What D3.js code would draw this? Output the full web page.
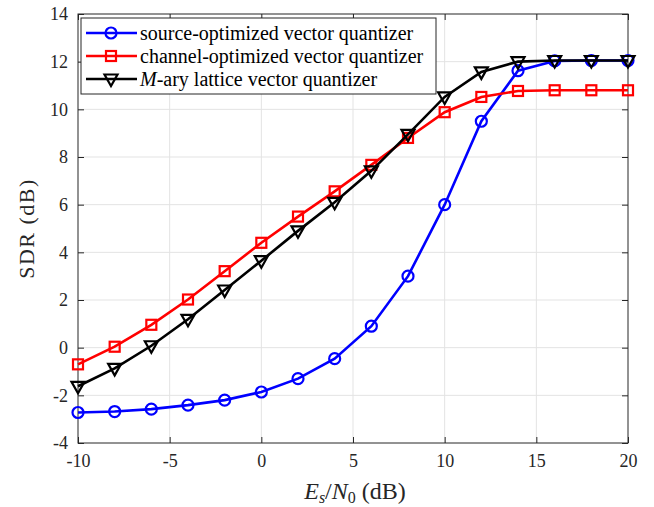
<!DOCTYPE html>
<html>
<head>
<meta charset="utf-8">
<script src="https://cdn.jsdelivr.net/npm/d3@7"></script>
<style>
  body { margin: 0; background: #fff; }
  svg text { font-family: 'Liberation Serif', 'Times New Roman', Times, 'DejaVu Serif', serif !important; }
</style>
</head>
<body>
<div id="chart"></div>
<script>
// Data
const snr = [-10, -8, -6, -4, -2, 0, 2, 4, 6, 8, 10, 12, 14, 16, 18, 20];
const sourceOpt = [-2.72, -2.68, -2.58, -2.41, -2.2, -1.86, -1.3, -0.46, 0.9, 3.0, 6.0, 9.5, 11.62, 12.03, 12.05, 12.05];
const channelOpt = [-0.7, 0.04, 0.96, 2.02, 3.21, 4.4, 5.5, 6.56, 7.67, 8.8, 9.88, 10.52, 10.77, 10.8, 10.8, 10.8];
const latticeVQ = [-1.62, -0.87, 0.08, 1.19, 2.42, 3.65, 4.9, 6.1, 7.42, 8.95, 10.52, 11.57, 12.0, 12.05, 12.05, 12.05];
const xTicks = [-10, -5, 0, 5, 10, 15, 20];
const yTicks = [-4, -2, 0, 2, 4, 6, 8, 10, 12, 14];

const W = 654, H = 507;
const margin = { top: 14, right: 26, bottom: 64, left: 78 };
const width = W - margin.left - margin.right;
const height = H - margin.top - margin.bottom;
const serif = "'Liberation Serif', 'Times New Roman', serif";

const svg = d3.select("#chart").append("svg")
  .attr("width", W).attr("height", H)
  .attr("font-family", serif);
const g = svg.append("g")
  .attr("transform", `translate(${margin.left},${margin.top})`);

const x = d3.scaleLinear().domain([-10, 20]).range([0, width]);
const y = d3.scaleLinear().domain([-4, 14]).range([height, 0]);

// grid
g.append("g").selectAll("line").data(xTicks.slice(1, -1)).join("line")
  .attr("x1", d => x(d)).attr("x2", d => x(d))
  .attr("y1", 0).attr("y2", height)
  .attr("stroke", "#e3e3e3").attr("stroke-width", 1);
g.append("g").selectAll("line").data(yTicks.slice(1, -1)).join("line")
  .attr("y1", d => y(d)).attr("y2", d => y(d))
  .attr("x1", 0).attr("x2", width)
  .attr("stroke", "#e3e3e3").attr("stroke-width", 1);

// axes (ticks inward, on all four sides)
const axisColor = "#262626";
function styleAxis(sel, showText) {
  sel.attr("font-family", serif).attr("font-size", 18);
  sel.select(".domain").remove();
  sel.selectAll(".tick line").attr("stroke", axisColor);
  sel.selectAll(".tick text")
    .attr("fill", "#262626")
    .style("display", showText ? null : "none");
}
g.append("g").attr("transform", `translate(0,${height})`)
  .call(d3.axisBottom(x).tickValues(xTicks).tickSizeInner(-6).tickPadding(11).tickFormat(d => d))
  .call(s => styleAxis(s, true));
g.append("g")
  .call(d3.axisTop(x).tickValues(xTicks).tickSizeInner(-6).tickFormat(""))
  .call(s => styleAxis(s, false));
g.append("g")
  .call(d3.axisLeft(y).tickValues(yTicks).tickSizeInner(-6).tickPadding(10).tickFormat(d => d))
  .call(s => styleAxis(s, true));
g.append("g").attr("transform", `translate(${width},0)`)
  .call(d3.axisRight(y).tickValues(yTicks).tickSizeInner(-6).tickFormat(""))
  .call(s => styleAxis(s, false));
g.append("rect")
  .attr("width", width).attr("height", height)
  .attr("fill", "none").attr("stroke", axisColor).attr("stroke-width", 1);

// series
const series = [
  { name: "source", values: sourceOpt, color: "#0000ff", marker: "circle" },
  { name: "channel", values: channelOpt, color: "#ff0000", marker: "square" },
  { name: "lattice", values: latticeVQ, color: "#000000", marker: "triangle" }
];
const line = d3.line().x(d => x(d[0])).y(d => y(d[1]));

function drawMarker(sel, type, color) {
  if (type === "circle") {
    sel.append("circle").attr("r", 5.5)
      .attr("fill", "none").attr("stroke", color).attr("stroke-width", 2.2);
  } else if (type === "square") {
    sel.append("rect").attr("x", -5).attr("y", -5).attr("width", 10).attr("height", 10)
      .attr("fill", "none").attr("stroke", color).attr("stroke-width", 2.2);
  } else {
    sel.append("path").attr("d", "M-6.5,-4.5 L6.5,-4.5 L0,7 Z")
      .attr("fill", "none").attr("stroke", color).attr("stroke-width", 2.2);
  }
}

series.forEach(s => {
  const pts = snr.map((v, i) => [v, s.values[i]]);
  g.append("path").datum(pts)
    .attr("fill", "none").attr("stroke", s.color).attr("stroke-width", 2.6)
    .attr("d", line);
  g.append("g").selectAll("g").data(pts).join("g")
    .attr("transform", d => `translate(${x(d[0])},${y(d[1])})`)
    .each(function() { drawMarker(d3.select(this), s.marker, s.color); });
});

// legend
const lg = svg.append("g").attr("transform", "translate(81,18)");
lg.append("rect").attr("width", 355).attr("height", 76)
  .attr("fill", "#fff").attr("stroke", axisColor).attr("stroke-width", 1);
const legendLabels = [
  ["source-optimized vector quantizer"],
  ["channel-optimized vector quantizer"],
  ["M", "-ary lattice vector quantizer"]
];
series.forEach((s, i) => {
  const row = lg.append("g").attr("transform", `translate(0,${15 + i * 23})`);
  row.append("line").attr("x1", 5).attr("x2", 56)
    .attr("stroke", s.color).attr("stroke-width", 2.6);
  drawMarker(row.append("g").attr("transform", "translate(30,0)"), s.marker, s.color);
  const t = row.append("text").attr("x", 59).attr("y", 6.5)
    .attr("font-size", 20).attr("fill", "#000");
  if (legendLabels[i].length === 1) {
    t.text(legendLabels[i][0]);
  } else {
    t.append("tspan").attr("font-style", "italic").text(legendLabels[i][0]);
    t.append("tspan").text(legendLabels[i][1]);
  }
});

// axis labels
const xl = svg.append("text")
  .attr("x", margin.left + width / 2 + 2).attr("y", 499)
  .attr("text-anchor", "middle").attr("font-size", 24).attr("fill", "#262626");
xl.append("tspan").attr("font-style", "italic").text("E");
xl.append("tspan").attr("dy", 4).attr("font-size", 16).attr("font-style", "italic").text("s");
xl.append("tspan").attr("dy", -4).text("/");
xl.append("tspan").attr("font-style", "italic").text("N");
xl.append("tspan").attr("dy", 4).attr("font-size", 16).text("0");
xl.append("tspan").attr("dy", -4).text(" (dB)");

svg.append("text")
  .attr("transform", `translate(34,${margin.top + height / 2}) rotate(-90)`)
  .attr("text-anchor", "middle").attr("font-size", 22).attr("letter-spacing", 1.5)
  .attr("fill", "#262626")
  .text("SDR (dB)");
</script>
</body>
</html>
